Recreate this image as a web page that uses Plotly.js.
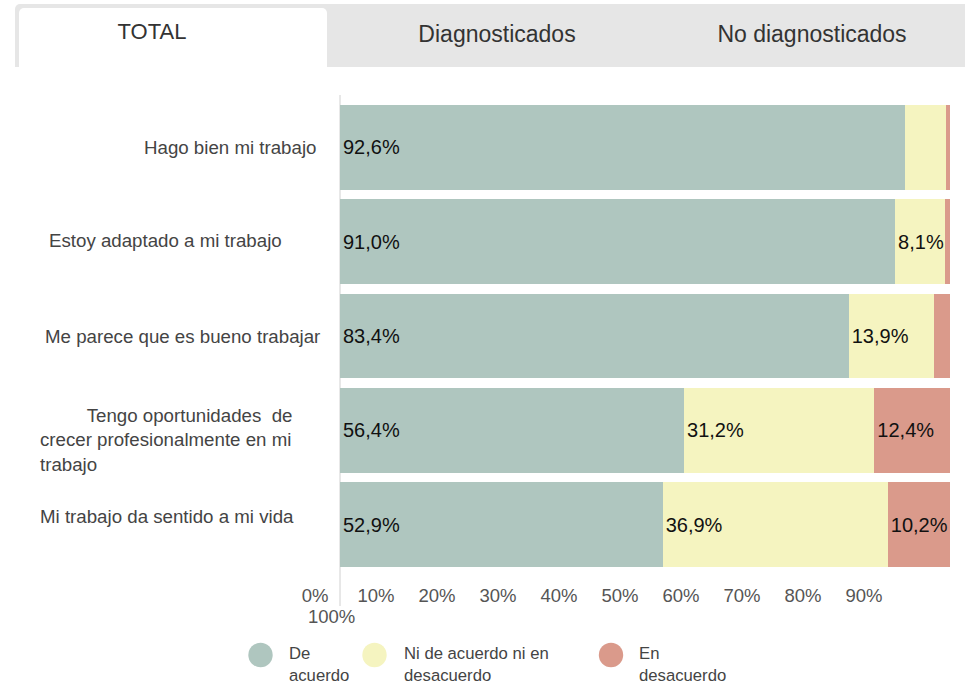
<!DOCTYPE html>
<html>
<head>
<meta charset="utf-8">
<script src="https://cdn.plot.ly/plotly-3.0.1.min.js"></script>
<style>
  html, body { margin: 0; padding: 0; background: #ffffff; }
  #wrap { position: relative; width: 965px; height: 688px; overflow: hidden; font-family: "Liberation Sans", Arial, sans-serif; }
  #chart { position: absolute; left: 0; top: 0; width: 965px; height: 688px; }
  #tabbar { position: absolute; left: 15px; top: 4px; width: 950px; height: 63px; background: #e6e6e6; border-radius: 5px 0 0 0; z-index: 5; }
  .tab { position: absolute; font-size: 23px; color: #333; white-space: nowrap; transform: translate(-50%, -50%); z-index: 7; }
  #activeTab { position: absolute; left: 19px; top: 8px; width: 308px; height: 60px; background: #ffffff; border-radius: 5px 5px 0 0; z-index: 6; }
</style>
</head>
<body>
<div id="wrap">
  <div id="chart"></div>
  <div id="tabbar"></div>
  <div id="activeTab"></div>
  <div class="tab" id="t0" style="left:152px; top:32px; font-size:22px;"></div>
  <div class="tab" id="t1" style="left:497px; top:34px;"></div>
  <div class="tab" id="t2" style="left:812px; top:34px;"></div>
</div>
<script>
// ---------- data ----------
const tabLabels = ["TOTAL", "Diagnosticados", "No diagnosticados"];
const categories = [
  "Hago bien mi trabajo",
  "Estoy adaptado a mi trabajo",
  "Me parece que es bueno trabajar",
  "Tengo oportunidades de crecer profesionalmente en mi trabajo",
  "Mi trabajo da sentido a mi vida"
];
const categoryLabels = [
  "Hago bien mi trabajo",
  "Estoy adaptado a mi trabajo",
  "Me parece que es bueno trabajar",
  "\u00a0\u00a0\u00a0\u00a0\u00a0\u00a0\u00a0\u00a0\u00a0Tengo oportunidades\u00a0\u00a0de<br>crecer profesionalmente en mi<br>trabajo",
  "Mi trabajo da sentido a mi vida"
];
const seriesNames = ["De acuerdo", "Ni de acuerdo ni en desacuerdo", "En desacuerdo"];
const legendLabels = ["De<br>acuerdo", "Ni de acuerdo ni en<br>desacuerdo", "En<br>desacuerdo"];
const deAcuerdo    = [92.6, 91.0, 83.4, 56.4, 52.9];
const niNi         = [6.7, 8.1, 13.9, 31.2, 36.9];
const enDesacuerdo = [0.7, 0.9, 2.7, 12.4, 10.2];
const xTickVals = [0, 10, 20, 30, 40, 50, 60, 70, 80, 90];
const xTickText = ["0%", "10%", "20%", "30%", "40%", "50%", "60%", "70%", "80%", "90%"];
const wrappedTickText = "100%";

// ---------- styles ----------
const colors = ["#afc6bf", "#f5f4c0", "#da9a8b"];
const PL = 340, PR = 950, PT = 100, PB = 572;
const px2x = p => (p - PL) / (PR - PL);
const py2y = p => (PB - p) / (PB - PT);

document.getElementById("t0").textContent = tabLabels[0];
document.getElementById("t1").textContent = tabLabels[1];
document.getElementById("t2").textContent = tabLabels[2];

const fmt = v => (v >= 7.5 ? v.toFixed(1).replace(".", ",") + "%" : "");
const series = [deAcuerdo, niNi, enDesacuerdo];
const traces = series.map((vals, i) => ({
  type: "bar",
  orientation: "h",
  name: seriesNames[i],
  x: vals,
  y: categories.map((c, k) => k),
  text: vals.map(fmt),
  texttemplate: "%{text}",
  textposition: "inside",
  insidetextanchor: "start",
  textangle: 0,
  constraintext: "none",
  textfont: { family: "Liberation Sans, Arial, sans-serif", size: 20, color: "#111111" },
  marker: { color: colors[i], line: { width: 0 } },
  hoverinfo: "name+x",
  showlegend: false
}));

// category label annotations
const labelPx = [318, 47, 43, 38, 38];
const labelAnchor = ["right", "left", "left", "left", "left"];
const labelShift = [0, 1, 0, -10, 8];
const annotations = categoryLabels.map((t, i) => ({
  xref: "paper", yref: "y",
  x: px2x(labelPx[i]), y: i,
  xanchor: labelAnchor[i], yanchor: "middle",
  yshift: labelShift[i],
  align: "left",
  text: t, showarrow: false,
  font: { family: "Liberation Sans, Arial, sans-serif", size: 18.7, color: "#444444" }
}));
// wrapped 100% tick label
annotations.push({
  xref: "paper", yref: "paper",
  x: px2x(331), y: py2y(616),
  xanchor: "center", yanchor: "middle",
  text: wrappedTickText, showarrow: false,
  font: { family: "Liberation Sans, Arial, sans-serif", size: 18.5, color: "#555555" }
});
// legend
const legendCircleX = [260.5, 374.5, 611];
const legendTextX = [287, 402, 637];
const shapes = [{
  type: "line", xref: "paper", yref: "paper",
  x0: 0, x1: 0, y0: py2y(606), y1: py2y(95),
  line: { color: "#d0d0d0", width: 1 }, layer: "below"
}];
legendLabels.forEach((t, i) => {
  shapes.push({
    type: "circle", xref: "paper", yref: "paper",
    x0: px2x(legendCircleX[i] - 12.2), x1: px2x(legendCircleX[i] + 12.2),
    y0: py2y(655 + 12.2), y1: py2y(655 - 12.2),
    fillcolor: colors[i], line: { width: 0 }
  });
  annotations.push({
    xref: "paper", yref: "paper",
    x: px2x(legendTextX[i]), y: py2y(642),
    xanchor: "left", yanchor: "top", align: "left",
    text: t, showarrow: false,
    font: { family: "Liberation Sans, Arial, sans-serif", size: 16.7, color: "#444444" }
  });
});

const layout = {
  width: 965, height: 688,
  margin: { l: PL, r: 965 - PR, t: PT, b: 688 - PB, pad: 0 },
  paper_bgcolor: "#ffffff", plot_bgcolor: "#ffffff",
  barmode: "stack", bargap: 0.1,
  showlegend: false,
  font: { family: "Liberation Sans, Arial, sans-serif", color: "#555555" },
  xaxis: {
    range: [0, 100], fixedrange: true,
    tickvals: xTickVals, ticktext: xTickText,
    showgrid: false, zeroline: false, showline: false, ticks: "",
    ticklabelshift: -25, ticklabelstandoff: 10,
    tickfont: { family: "Liberation Sans, Arial, sans-serif", size: 18.5, color: "#555555" }
  },
  yaxis: {
    type: "linear", range: [4.5, -0.5], fixedrange: true,
    showticklabels: false, showgrid: false, zeroline: false, showline: false, ticks: ""
  },
  annotations: annotations,
  shapes: shapes
};

Plotly.newPlot("chart", traces, layout, { displayModeBar: false, staticPlot: true });
</script>
</body>
</html>
